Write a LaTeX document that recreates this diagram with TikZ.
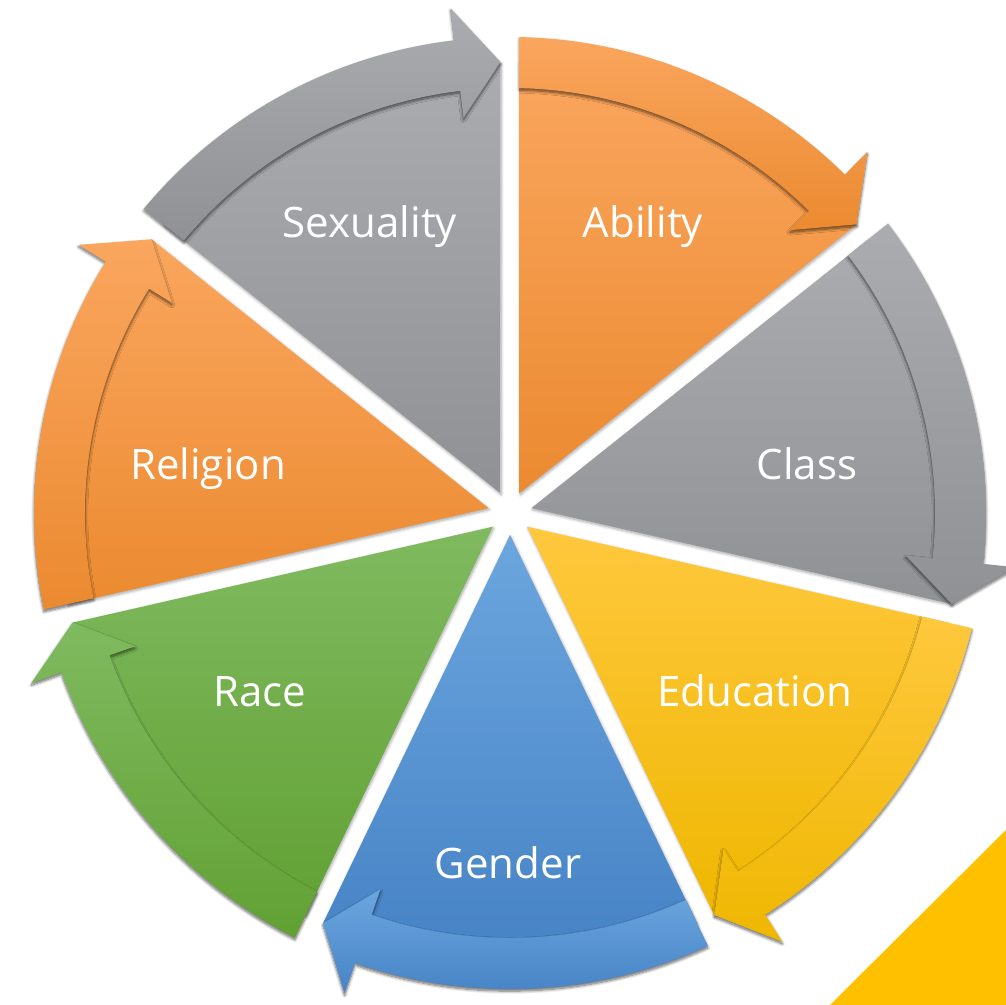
\documentclass[tikz,border=0pt]{standalone}
\usepackage{fontspec}
\setmainfont{Open Sans}
\usepackage[dvipsnames]{xcolor}
\usepackage{tikz}
\usetikzlibrary{shadows.blur}

\definecolor{grayTop}{HTML}{ABACB0}
\definecolor{grayBot}{HTML}{909195}
\definecolor{orangeTop}{HTML}{FAA65E}
\definecolor{orangeBot}{HTML}{EB8A30}
\definecolor{yellowTop}{HTML}{FFC83E}
\definecolor{yellowBot}{HTML}{EFB700}
\definecolor{blueTop}{HTML}{6BA6DE}
\definecolor{blueBot}{HTML}{4481C4}
\definecolor{greenTop}{HTML}{80BA60}
\definecolor{greenBot}{HTML}{61A133}
\definecolor{cornerYellow}{HTML}{FFC000}

\begin{document}
\begin{tikzpicture}[x=0.75pt,y=0.75pt,
  wedge/.style={blur shadow={shadow xshift=0.6pt, shadow yshift=-1.2pt, shadow blur steps=6, shadow opacity=35}},
  band/.style={blur shadow={shadow xshift=0pt, shadow yshift=-1.6pt, shadow blur steps=8, shadow opacity=60}},
  seglabel/.style={text=white, font=\fontsize{31.5}{38}\selectfont, inner sep=0.75pt, anchor=base}]
%set diagram frame, centre of the cycle at (0,0)
\useasboundingbox (-510,-492) rectangle (496,513);

%Shape: Corner Triangle
\fill [cornerYellow] (320,-492) -- (496,-317) -- (496,-492) -- cycle ;

%Shape: Wedge Sexuality
\path [wedge, top color=grayTop, bottom color=grayBot] (115.71:22) -- (91.21:451) arc [start angle=91.21, end angle=140.21, radius=451] -- cycle ;
%Shape: Arrow Sexuality
\path [band, top color=grayTop, bottom color=grayBot] (140.28:476) arc [start angle=140.28, end angle=96.71, radius=476] -- (96.71:508) -- (91.21:451) -- (96.71:398) -- (96.71:425) arc [start angle=96.71, end angle=140.14, radius=425] -- cycle ;

%Shape: Wedge Ability
\path [wedge, top color=orangeTop, bottom color=orangeBot] (64.29:22) -- (39.79:451) arc [start angle=39.79, end angle=88.79, radius=451] -- cycle ;
%Shape: Arrow Ability
\path [band, top color=orangeTop, bottom color=orangeBot] (88.86:476) arc [start angle=88.86, end angle=45.29, radius=476] -- (45.29:508) -- (39.79:451) -- (45.29:398) -- (45.29:425) arc [start angle=45.29, end angle=88.72, radius=425] -- cycle ;

%Shape: Wedge Class
\path [wedge, top color=grayTop, bottom color=grayBot] (12.86:22) -- (-11.64:451) arc [start angle=-11.64, end angle=37.36, radius=451] -- cycle ;
%Shape: Arrow Class
\path [band, top color=grayTop, bottom color=grayBot] (37.43:476) arc [start angle=37.43, end angle=-6.14, radius=476] -- (-6.14:508) -- (-11.64:451) -- (-6.14:398) -- (-6.14:425) arc [start angle=-6.14, end angle=37.29, radius=425] -- cycle ;

%Shape: Wedge Education
\path [wedge, top color=yellowTop, bottom color=yellowBot] (-38.57:22) -- (-63.07:451) arc [start angle=-63.07, end angle=-14.07, radius=451] -- cycle ;
%Shape: Arrow Education
\path [band, top color=yellowTop, bottom color=yellowBot] (-14.00:476) arc [start angle=-14.00, end angle=-57.57, radius=476] -- (-57.57:508) -- (-63.07:451) -- (-57.57:398) -- (-57.57:425) arc [start angle=-57.57, end angle=-14.14, radius=425] -- cycle ;

%Shape: Wedge Gender
\path [wedge, top color=blueTop, bottom color=blueBot] (-90:22) -- (-114.5:451) arc [start angle=-114.5, end angle=-65.5, radius=451] -- cycle ;
%Shape: Arrow Gender
\path [band, top color=blueTop, bottom color=blueBot] (-65.43:476) arc [start angle=-65.43, end angle=-109, radius=476] -- (-109:508) -- (-114.5:451) -- (-109:398) -- (-109:425) arc [start angle=-109, end angle=-65.57, radius=425] -- cycle ;

%Shape: Wedge Race
\path [wedge, top color=greenTop, bottom color=greenBot] (-141.43:22) -- (-165.93:451) arc [start angle=-165.93, end angle=-116.93, radius=451] -- cycle ;
%Shape: Arrow Race
\path [band, top color=greenTop, bottom color=greenBot] (-116.86:476) arc [start angle=-116.86, end angle=-160.43, radius=476] -- (-160.43:508) -- (-165.93:451) -- (-160.43:398) -- (-160.43:425) arc [start angle=-160.43, end angle=-117, radius=425] -- cycle ;

%Shape: Wedge Religion
\path [wedge, top color=orangeTop, bottom color=orangeBot] (167.14:22) -- (142.64:451) arc [start angle=142.64, end angle=191.64, radius=451] -- cycle ;
%Shape: Arrow Religion
\path [band, top color=orangeTop, bottom color=orangeBot] (191.71:476) arc [start angle=191.71, end angle=148.14, radius=476] -- (148.14:508) -- (142.64:451) -- (148.14:398) -- (148.14:425) arc [start angle=148.14, end angle=191.57, radius=425] -- cycle ;

% Text Node
\draw (-140,275) node [seglabel] (sexuality) {Sexuality};
% Text Node
\draw (133,275) node [seglabel] (ability) {Ability};
% Text Node
\draw (297,33) node [seglabel] (class) {Class};
% Text Node
\draw (245,-194) node [seglabel] (education) {Education};
% Text Node
\draw (-2,-365) node [seglabel] (gender) {Gender};
% Text Node
\draw (-250,-194) node [seglabel] (race) {Race};
% Text Node
\draw (-302,33) node [seglabel] (religion) {Religion};

\end{tikzpicture}
\end{document}
